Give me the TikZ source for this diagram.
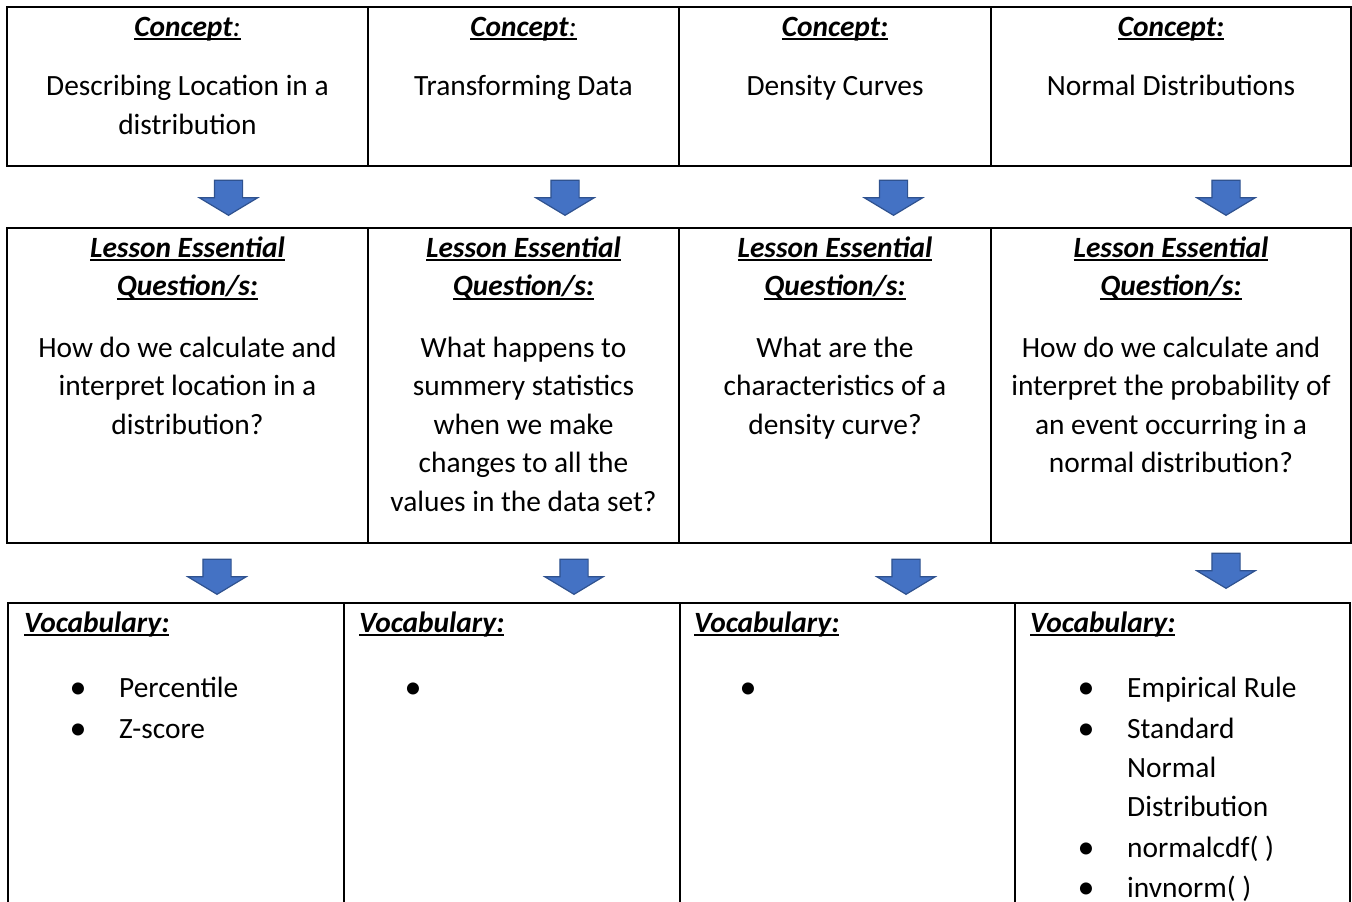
\documentclass[tikz,border=0pt]{standalone}
\usepackage{fontspec}
\setmainfont{Carlito}
\usepackage{array}
\usetikzlibrary{positioning,shapes.arrows}
\definecolor{arrowfill}{HTML}{4472C4}
\definecolor{arrowedge}{HTML}{2F528F}
\newsavebox\ulbox
\newcommand\ulx[1]{\leavevmode\sbox\ulbox{#1}\rlap{\usebox\ulbox}\rule[-4pt]{\wd\ulbox}{1.6pt}}
\newcommand\cellfont{\fontsize{29.4}{38.6}\selectfont}
\newcommand\listfont{\fontsize{29.4}{39}\selectfont}
\newcommand\hd[1]{\ulx{\textbf{\textit{#1}}}}
\newcommand\bul{\hbox to 30pt{\hss\raisebox{-1pt}{\fontsize{34}{34}\selectfont\textbullet}\hss}\hspace{26pt}}
\tikzset{
  cell/.style   ={draw,line width=2.6pt,inner sep=0pt},
  ctext/.style  ={font=\cellfont,align=flush center,inner sep=0pt,anchor=base},
  vtext/.style  ={font=\listfont,align=left,inner sep=0pt,anchor=base west},
  downarr/.style={single arrow,shape border rotate=270,draw=arrowedge,fill=arrowfill,line width=1.2pt,
                  minimum height=35pt,single arrow head extend=15pt,single arrow tip angle=118,
                  inner xsep=13.5pt,inner ysep=0pt,anchor=tip},
}

\begin{document}
\begin{tikzpicture}[x=1pt,y=-1pt]
  \clip (0,0) rectangle (1352,902);
  \useasboundingbox (0,0) rectangle (1352,902);

  % concepts
  \node[cell,minimum width=361pt,minimum height=159pt] (c1) at (187.5,86.5) {};
  \node[cell,minimum width=311pt,minimum height=159pt] (c2) at (523.5,86.5) {};
  \node[cell,minimum width=312pt,minimum height=159pt] (c3) at (835,86.5) {};
  \node[cell,minimum width=360pt,minimum height=159pt] (c4) at (1171,86.5) {};

  \node[ctext] (ch1) at (187.5,36) {\hd{Concept}\ulx{\textit{:}}};
  \node[ctext] (ch2) at (523.5,36) {\hd{Concept}\ulx{\textit{:}}};
  \node[ctext] (ch3) at (835,36)   {\hd{Concept:}};
  \node[ctext] (ch4) at (1171,36)  {\hd{Concept:}};

  \node[ctext,text width=340pt] (cb1) at (187.5,95) {Describing Location in a\\[0.5pt]distribution};
  \node[ctext,text width=290pt] (cb2) at (523.5,95) {Transforming Data};
  \node[ctext,text width=290pt] (cb3) at (835,95)   {Density Curves};
  \node[ctext,text width=340pt] (cb4) at (1171,95)  {Normal Distributions};

  % questions
  \node[cell,minimum width=361pt,minimum height=315pt] (q1) at (187.5,385.5) {};
  \node[cell,minimum width=311pt,minimum height=315pt] (q2) at (523.5,385.5) {};
  \node[cell,minimum width=312pt,minimum height=315pt] (q3) at (835,385.5) {};
  \node[cell,minimum width=360pt,minimum height=315pt] (q4) at (1171,385.5) {};

  \node[ctext,text width=340pt] (qh1) at (187.5,257) {\hd{Lesson Essential}\\\hd{Question/s:}};
  \node[ctext,text width=290pt] (qh2) at (523.5,257) {\hd{Lesson Essential}\\\hd{Question/s:}};
  \node[ctext,text width=290pt] (qh3) at (835,257)   {\hd{Lesson Essential}\\\hd{Question/s:}};
  \node[ctext,text width=340pt] (qh4) at (1171,257)  {\hd{Lesson Essential}\\\hd{Question/s:}};

  \node[ctext,text width=340pt] (qb1) at (187.5,357) {How do we calculate and\\interpret location in a\\distribution?};
  \node[ctext,text width=300pt] (qb2) at (523.5,357) {What happens to\\summery statistics\\when we make\\changes to all the\\values in the data set?};
  \node[ctext,text width=300pt] (qb3) at (835,357)   {What are the\\characteristics of a\\density curve?};
  \node[ctext,text width=340pt] (qb4) at (1171,357)  {How do we calculate and\\interpret the probability of\\an event occurring in a\\normal distribution?};

  % vocabulary
  \node[cell,minimum width=336pt,minimum height=357pt] (v1) at (176,781.5) {};
  \node[cell,minimum width=336pt,minimum height=357pt] (v2) at (512,781.5) {};
  \node[cell,minimum width=335pt,minimum height=357pt] (v3) at (847.5,781.5) {};
  \node[cell,minimum width=335pt,minimum height=357pt] (v4) at (1182.5,781.5) {};

  \node[vtext] (vh1) at (24,632)   {\hd{Vocabulary:}};
  \node[vtext] (vh2) at (359,632)  {\hd{Vocabulary:}};
  \node[vtext] (vh3) at (694,632)  {\hd{Vocabulary:}};
  \node[vtext] (vh4) at (1030,632) {\hd{Vocabulary:}};

  \node[vtext] (vl1) at (63,697) {\begin{tabular}[t]{@{}l@{}}\bul Percentile\\[2pt]\bul Z-score\end{tabular}};
  \node[vtext] (vl2) at (398,697) {\bul};
  \node[vtext] (vl3) at (733,697) {\bul};
  \node[vtext] (vl4) at (1071,697) {\begin{tabular}[t]{@{}l@{}}\bul Empirical Rule\\[2pt]\bul Standard\\\hspace{56pt}Normal\\\hspace{56pt}Distribution\\[2pt]\bul normalcdf( )\\[1pt]\bul invnorm( )\end{tabular}};

  % arrows between rows
  \node[downarr] (a1) at (228.5,216) {};
  \node[downarr] (a2) at (565,216)   {};
  \node[downarr] (a3) at (893.5,216) {};
  \node[downarr] (a4) at (1226,216)  {};

  \node[downarr] (b1) at (217,595) {};
  \node[downarr] (b2) at (574,595) {};
  \node[downarr] (b3) at (906,595) {};
  \node[downarr] (b4) at (1226,589) {};
\end{tikzpicture}
\end{document}
